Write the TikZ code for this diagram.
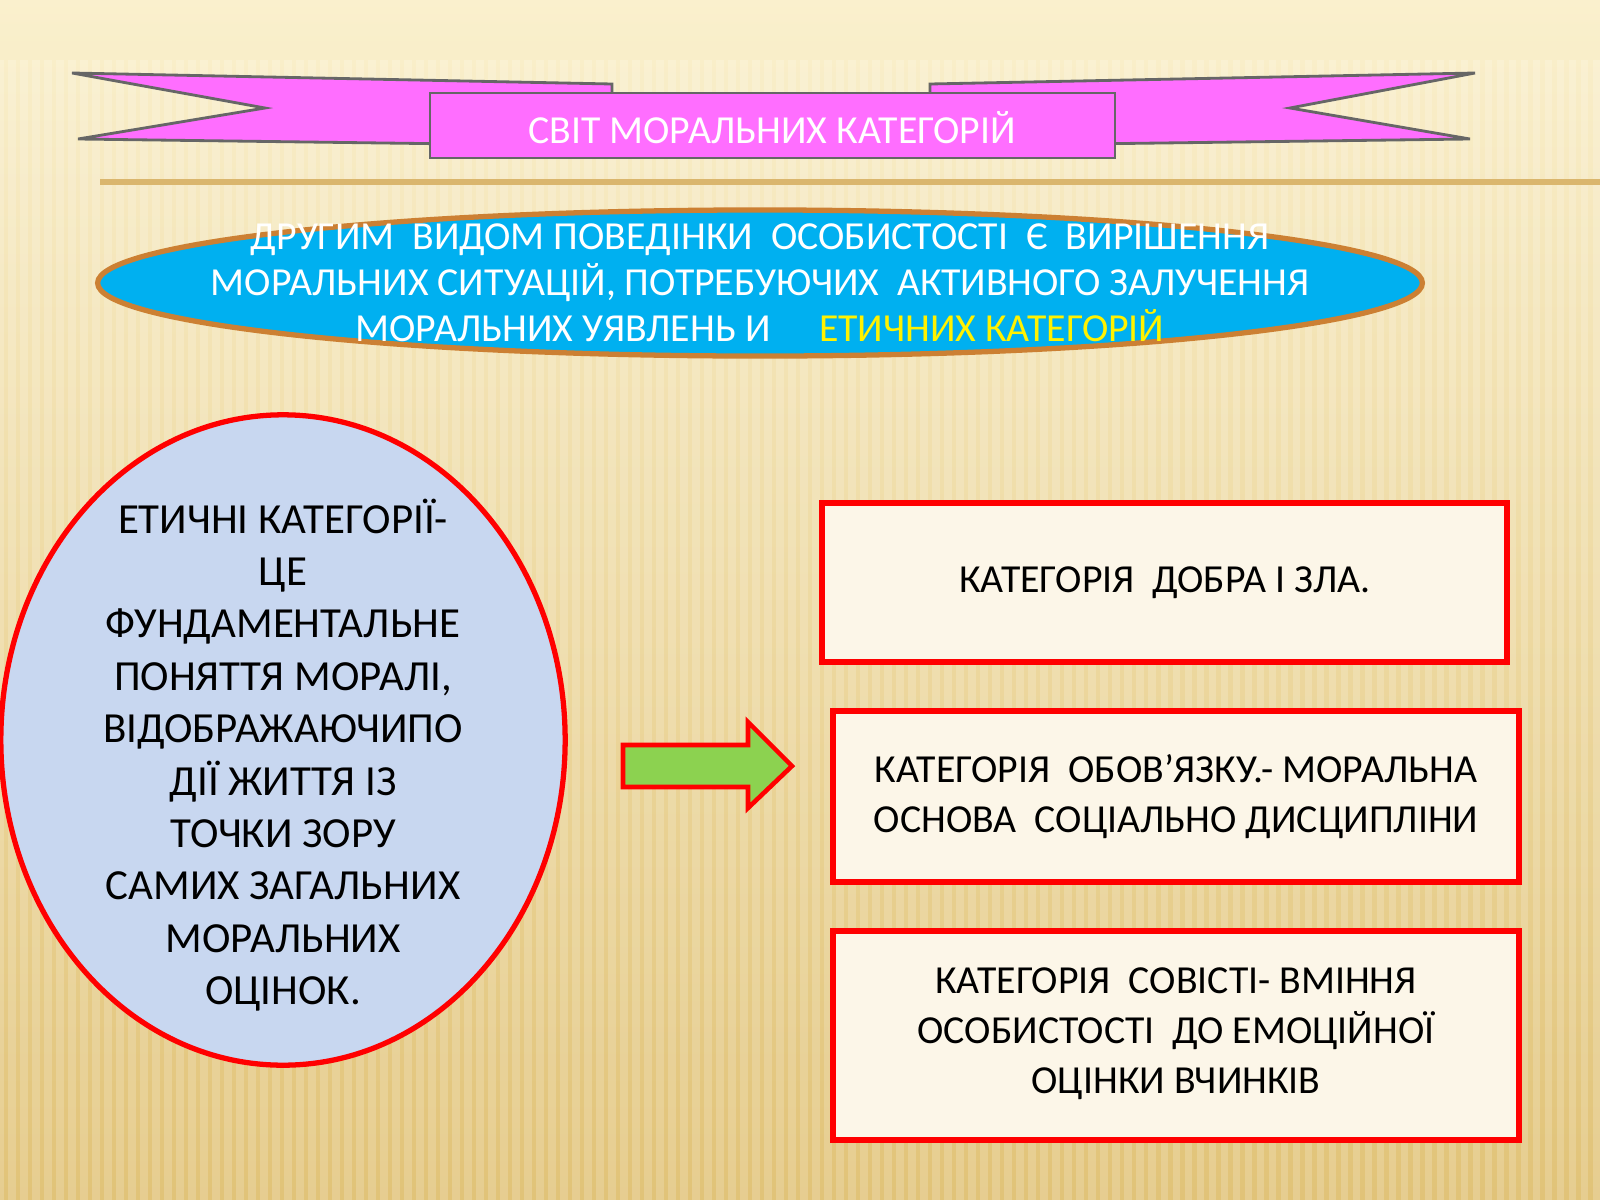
\documentclass[tikz,border=0pt]{standalone}
\usepackage{fontspec}
\setmainfont{Carlito}
\usetikzlibrary{shapes.geometric,shapes.arrows}
\definecolor{paper}{RGB}{250,240,205}
\definecolor{gold}{RGB}{225,195,120}
\definecolor{pinkband}{RGB}{255,110,255}
\definecolor{skyfill}{RGB}{0,176,240}
\definecolor{lilac}{RGB}{200,215,240}
\definecolor{cream}{RGB}{252,246,232}
\definecolor{arrowgreen}{RGB}{140,210,80}
\tikzset{
  band/.style={draw=black!60, fill=pinkband, line width=0.8pt},
  catbox/.style={draw=red, fill=cream, line width=1.5pt},
  txt/.style={font=\fontsize{11.3}{13}\selectfont, align=center, inner sep=0pt}
}
\begin{document}
\begin{tikzpicture}[x=0.01cm,y=-0.01cm]

  % background
  \useasboundingbox (0,0) rectangle (1600,1200);
  \shade[top color=paper, bottom color=gold] (0,0) rectangle (1600,1200);
  \foreach \i in {0,12,...,1600}
    \draw[white, opacity=0.18, line width=2pt] (\i,60) -- (\i,1200);

  % title ribbon
  \draw[band] (72,73) -- (612,84) -- (612,146) -- (78,139) -- (265,108) -- cycle;
  \draw[band] (1475,73) -- (930,84) -- (930,146) -- (1470,139) -- (1290,108) -- cycle;
  \draw[band] (430,93) rectangle (1115,158);
  \node[txt, text=white] (title) at (772,128) {СВІТ МОРАЛЬНИХ КАТЕГОРІЙ};
  \draw[gold!80!brown, line width=1.5pt] (100,182) -- (1600,182);

  % top ellipse
  \draw[brown!80!orange, fill=skyfill, line width=1.5pt] (760,283) ellipse (6.62cm and 0.73cm);
  \node[txt, text=white, font=\fontsize{11.3}{13.1}\selectfont] (intro) at (760,283)
    {ДРУГИМ \ ВИДОМ ПОВЕДІНКИ \ ОСОБИСТОСТІ \ Є \ ВИРІШЕННЯ\\
     МОРАЛЬНИХ СИТУАЦІЙ, ПОТРЕБУЮЧИХ \ АКТИВНОГО ЗАЛУЧЕННЯ\\
     МОРАЛЬНИХ УЯВЛЕНЬ И \quad\textcolor{yellow}{ЕТИЧНИХ КАТЕГОРІЙ}};

  % definition ellipse
  \draw[red, fill=lilac, line width=1.5pt] (283,740) ellipse (2.82cm and 3.25cm);
  \node[txt, font=\fontsize{12.2}{14.9}\selectfont] (defn) at (283,755)
    {ЕТИЧНІ КАТЕГОРІЇ-\\ЦЕ\\ФУНДАМЕНТАЛЬНЕ\\ПОНЯТТЯ МОРАЛІ,\\ВІДОБРАЖАЮЧИПО\\ДІЇ ЖИТТЯ ІЗ\\ТОЧКИ ЗОРУ\\САМИХ ЗАГАЛЬНИХ\\МОРАЛЬНИХ\\ОЦІНОК.};

  % arrow
  \draw[red, fill=arrowgreen, line width=1.3pt]
    (623,745) -- (748,745) -- (748,722) -- (792,766) -- (748,808) -- (748,787) -- (623,787) -- cycle;

  % category boxes
  \draw[catbox] (822,503) rectangle (1507,662);
  \node[txt] (good) at (1165,583) {КАТЕГОРІЯ \ ДОБРА І ЗЛА.};
  \draw[catbox] (833,711) rectangle (1519,882);
  \node[txt, font=\fontsize{11.3}{14.2}\selectfont] (duty) at (1176,797)
    {КАТЕГОРІЯ \ ОБОВ’ЯЗКУ.- МОРАЛЬНА\\ОСНОВА \ СОЦІАЛЬНО ДИСЦИПЛІНИ};
  \draw[catbox] (833,931) rectangle (1519,1140);
  \node[txt, font=\fontsize{11.3}{14.2}\selectfont] (conscience) at (1176,1034)
    {КАТЕГОРІЯ \ СОВІСТІ- ВМІННЯ\\ОСОБИСТОСТІ \ ДО ЕМОЦІЙНОЇ\\ОЦІНКИ ВЧИНКІВ};

\end{tikzpicture}
\end{document}
